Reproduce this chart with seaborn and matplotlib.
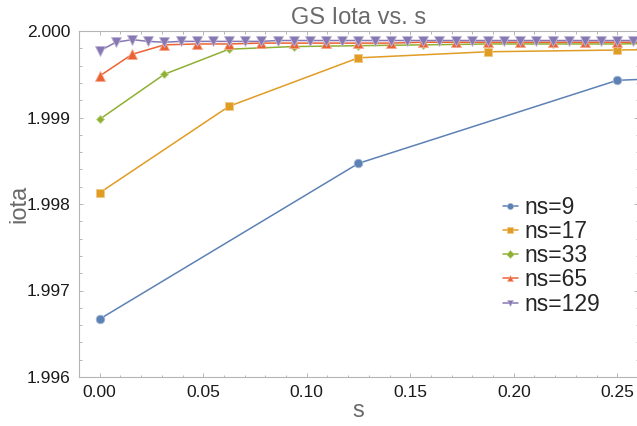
import matplotlib
matplotlib.use("Agg")
import matplotlib.pyplot as plt
import seaborn as sns
import pandas as pd
from matplotlib.lines import Line2D
from matplotlib.ticker import MultipleLocator

# ---- data ----
s9 = [0.0, 0.125, 0.25, 0.375]
iota9 = [1.99667, 1.99847, 1.99943, 1.99955]

s17 = [0.0, 0.0625, 0.125, 0.1875, 0.25, 0.3125]
iota17 = [1.99813, 1.99913, 1.99969, 1.99976, 1.99978, 1.99980]

s33 = [0.0, 0.03125, 0.0625, 0.09375, 0.125, 0.15625, 0.1875, 0.21875, 0.25, 0.28125]
iota33 = [1.99898, 1.99950, 1.99979, 1.99982, 1.99983, 1.99984, 1.99985, 1.99985,
          1.99985, 1.99986]

s65 = [k / 64 for k in range(18)]
iota65 = [1.99948, 1.99973, 1.99984, 1.99985, 1.99985, 1.99986, 1.99986, 1.99986,
          1.99986, 1.99986, 1.99987, 1.99987, 1.99987, 1.99987, 1.99987, 1.99987,
          1.99987, 1.99987]

s129 = [k / 128 for k in range(35)]
iota129 = [1.99977, 1.99987, 1.99990, 1.99988, 1.99987, 1.99988, 1.99988, 1.99988,
           1.99988, 1.99988, 1.99988, 1.99989, 1.99989, 1.99989, 1.99989, 1.99989,
           1.99989, 1.99989, 1.99989, 1.99989, 1.99989, 1.99989, 1.99989, 1.99989,
           1.99989, 1.99989, 1.99989, 1.99989, 1.99989, 1.99989, 1.99989, 1.99989,
           1.99989, 1.99989, 1.99989]

labels = ["ns=9", "ns=17", "ns=33", "ns=65", "ns=129"]
colors = ["#5E81B5", "#E19C24", "#8FB032", "#EB6235", "#8778B3"]
markers = ["o", "s", "D", "^", "v"]
msizes = [6.2, 6.2, 3.9, 6.8, 6.8]

series = [(s9, iota9), (s17, iota17), (s33, iota33), (s65, iota65), (s129, iota129)]

sns.set_theme(style="ticks")
plt.rcParams["font.family"] = ["Liberation Sans", "DejaVu Sans"]

W, H = 637, 426
fig = plt.figure(figsize=(W / 100, H / 100), dpi=100)
left, right, top, bottom = 79, 638, 31, 377
ax = fig.add_axes([left / W, 1 - bottom / H, (right - left) / W, (bottom - top) / H])


def lighten(c, f=0.45):
    import matplotlib.colors as mc
    r, g, b = mc.to_rgb(c)
    return (r + (1 - r) * f, g + (1 - g) * f, b + (1 - b) * f)


for (xs, ys), lab, col, mk, ms in zip(series, labels, colors, markers, msizes):
    df = pd.DataFrame({"s": xs, "iota": ys})
    sns.lineplot(data=df, x="s", y="iota", ax=ax, color=col, marker=mk,
                 markersize=ms, markeredgecolor=lighten(col), markeredgewidth=0.6,
                 linewidth=1.1, errorbar=None, sort=False, legend=False)

ax.set_xlim(-0.01, 0.26)
ax.set_ylim(1.996, 2.000)
ax.xaxis.set_major_locator(MultipleLocator(0.05))
ax.xaxis.set_minor_locator(MultipleLocator(0.01))
ax.yaxis.set_major_locator(MultipleLocator(0.001))
ax.yaxis.set_minor_locator(MultipleLocator(0.0002))
ax.xaxis.set_major_formatter(matplotlib.ticker.FormatStrFormatter("%.2f"))
ax.yaxis.set_major_formatter(matplotlib.ticker.FormatStrFormatter("%.3f"))

spine_c = "#b5b5b5"
for sp in ax.spines.values():
    sp.set_color(spine_c)
    sp.set_linewidth(0.8)
ax.tick_params(which="both", direction="in", top=True, right=True, color=spine_c,
               width=0.7, labelsize=12.5, labelcolor="#1a1a1a")
ax.tick_params(which="major", length=3.2, pad=6)
ax.tick_params(which="minor", length=1.8)

ax.set_title("GS Iota vs. s", fontsize=17, color="#6a6a6a", pad=5)
ax.set_xlabel("s", fontsize=17, color="#6a6a6a")
ax.set_ylabel("iota", fontsize=17, color="#6a6a6a")
ax.xaxis.label.set_va("baseline")
ax.xaxis.set_label_coords(0.5, (bottom - 417) / (bottom - top))
ax.yaxis.label.set_va("center")
ax.yaxis.set_label_coords((19 - left) / (right - left), 0.5)

handles = [Line2D([], [], color=c, marker=m, markersize=4.5, linewidth=1.1,
                  markeredgecolor=lighten(c), markeredgewidth=0.4)
           for c, m in zip(colors, markers)]
ax.legend(handles, labels, loc="upper left", bbox_to_anchor=(503 / W, 1 - 196 / H),
          bbox_transform=fig.transFigure, frameon=False, fontsize=16.5,
          handlelength=0.65, handletextpad=0.3, labelspacing=0.05, borderpad=0,
          borderaxespad=0)

fig.savefig("out.png", dpi=100)
